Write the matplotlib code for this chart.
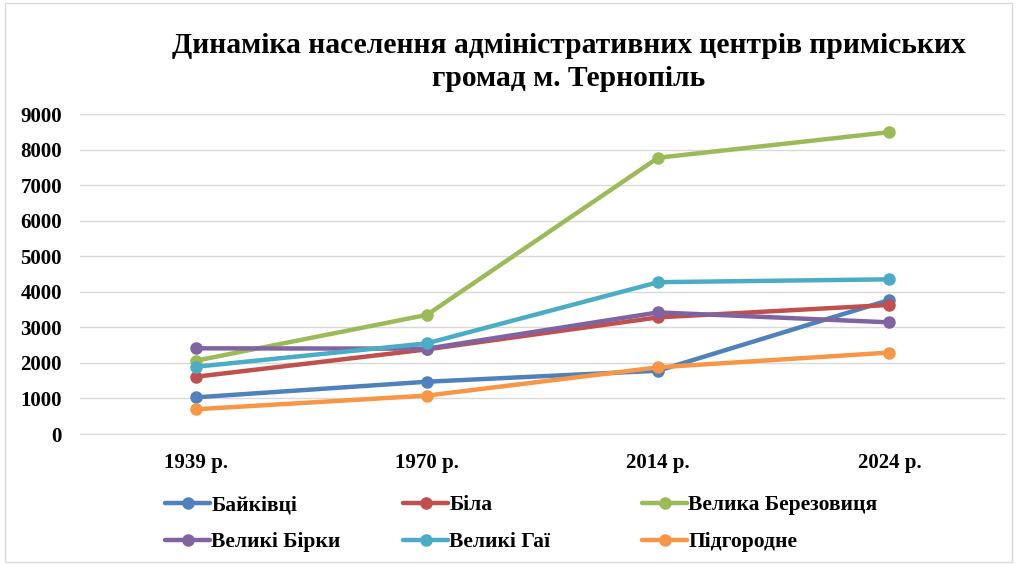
import matplotlib.pyplot as plt
from matplotlib.patches import Rectangle

plt.rcParams['font.family'] = ['Liberation Serif', 'DejaVu Serif']

years = ['1939 р.', '1970 р.', '2014 р.', '2024 р.']
baikivtsi = [1030, 1470, 1780, 3770]
bila = [1610, 2380, 3280, 3630]
velyka_berezovytsia = [2060, 3350, 7770, 8490]
velyki_birky = [2410, 2400, 3420, 3140]
velyki_hai = [1890, 2550, 4270, 4350]
pidhorodne = [695, 1080, 1875, 2290]

names = ['Байківці', 'Біла', 'Велика Березовиця', 'Великі Бірки', 'Великі Гаї', 'Підгородне']
series = [baikivtsi, bila, velyka_berezovytsia, velyki_birky, velyki_hai, pidhorodne]
colors = ['#4F81BD', '#C0504D', '#9BBB59', '#8064A2', '#4BACC6', '#F79646']

fig = plt.figure(figsize=(10.17, 5.65), dpi=100)
ax = fig.add_axes([80 / 1017, 1 - 434 / 565, 925 / 1017, 320 / 565])

x = range(len(years))
lines = []
for vals, name, c in zip(series, names, colors):
    ln, = ax.plot(x, vals, color=c, linewidth=3.2, marker='o', markersize=8,
                  solid_capstyle='round', label=name)
    lines.append(ln)

ax.set_xlim(-0.5, len(years) - 0.5)
ax.set_ylim(0, 9000)
ax.set_yticks(range(0, 9001, 1000))
ax.set_xticks(list(x))
ax.set_xticklabels(years)
ax.grid(axis='y', color='#D9D9D9', linewidth=1)
ax.set_axisbelow(True)
for s in ['top', 'right', 'left']:
    ax.spines[s].set_visible(False)
ax.spines['bottom'].set_color('#D9D9D9')
ax.tick_params(axis='both', length=0, labelsize=15)
ax.tick_params(axis='y', pad=13)
ax.tick_params(axis='x', pad=14)
for t in ax.get_xticklabels() + ax.get_yticklabels():
    t.set_fontweight('bold')

fig.text(569 / 1017, 1 - 62 / 565,
         'Динаміка населення адміністративних центрів приміських\nгромад м. Тернопіль',
         ha='center', va='center', fontsize=21.3, fontweight='bold', linespacing=1.25)

# legend: three columns, each with two rows
col_x = [165, 403, 642]
for i, cx in enumerate(col_x):
    hs = [lines[i], lines[i + 3]]
    fig.legend(handles=hs, labels=[names[i], names[i + 3]], loc='upper left',
               bbox_to_anchor=(cx / 1017, 1 - 495 / 565), frameon=False,
               prop={'weight': 'bold', 'size': 15.5}, handlelength=2.1,
               handletextpad=0.05, labelspacing=0.8, borderpad=0, borderaxespad=0)

fig.add_artist(Rectangle((5 / 1017, 3 / 565), 1007 / 1017, 559 / 565,
                         transform=fig.transFigure, fill=False,
                         edgecolor='#D9D9D9', linewidth=1))

fig.savefig('out.png', dpi=100)
